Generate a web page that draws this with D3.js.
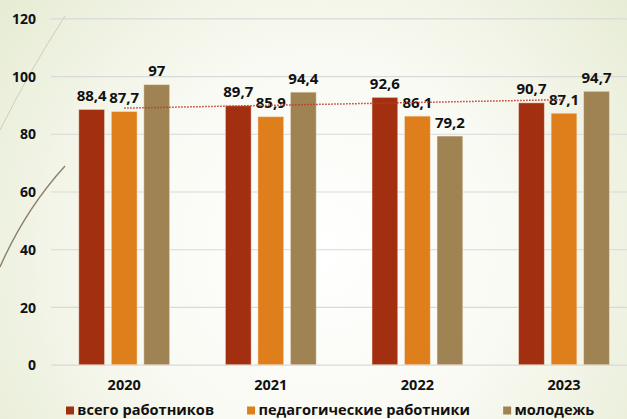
<!DOCTYPE html>
<html><head><meta charset="utf-8">
<script src="https://cdn.jsdelivr.net/npm/d3@7"></script>
<style>html,body{margin:0;padding:0;overflow:hidden;background:#f4f6ea}</style>
</head><body><svg id="c" width="627" height="419"></svg>
<script>
const years = ["2020","2021","2022","2023"];
const seriesNames = ["всего работников","педагогические работники","молодежь"];
const allWorkers = [88.4, 89.7, 92.6, 90.7];
const teachers = [87.7, 85.9, 86.1, 87.1];
const youth = [97, 94.4, 79.2, 94.7];
const yTicks = [0,20,40,60,80,100,120];
const colors = ["#a32f11","#df7f1c","#9f8353"];

const seriesValues = [allWorkers, teachers, youth];
const W = 627, H = 419;
const svg = d3.select("#c");
const font = "'Open Sans', sans-serif";

// background
const defs = svg.append("defs");
const rg = defs.append("radialGradient").attr("id","bg").attr("gradientUnits","userSpaceOnUse")
  .attr("cx",320).attr("cy",250).attr("r",430);
rg.append("stop").attr("offset","0").attr("stop-color","#ffffff");
rg.append("stop").attr("offset","0.45").attr("stop-color","#f9faf3");
rg.append("stop").attr("offset","1").attr("stop-color","#e4ead0");
svg.append("rect").attr("width",W).attr("height",H).attr("fill","url(#bg)");

// decorative lines
svg.append("path").attr("d","M65,16 Q30,70 0,130").attr("fill","none").attr("stroke","#cfcdbd").attr("stroke-width",1);
svg.append("path").attr("d","M65,166 Q25,210 0,267").attr("fill","none").attr("stroke","#8c7f6b").attr("stroke-width",1.4);

const y = d3.scaleLinear().domain([0,120]).range([364.7,18.3]);
const x0 = d3.scaleBand().domain(years).range([50.9,637.3]).paddingInner(0.381).paddingOuter(0.1905);
const x1 = d3.scaleBand().domain(seriesNames).range([0,x0.bandwidth()]).paddingInner(0.21);

// gridlines
const grid = svg.append("g").attr("transform","translate(51,0)")
  .call(d3.axisLeft(y).tickValues(yTicks).tickSize(-(W-51)).tickFormat(""));
grid.select(".domain").remove();
grid.selectAll("line").attr("stroke","#d9d9d9").attr("stroke-width",1.2);

// y labels
const ya = svg.append("g").attr("transform","translate(36,0)")
  .call(d3.axisLeft(y).tickValues(yTicks).tickSize(0).tickPadding(0));
ya.select(".domain").remove();
ya.selectAll("text").attr("font-family",font).attr("font-weight",700).attr("font-size",14).attr("fill","#111").attr("dy","0.36em");

// bars
const groups = svg.append("g").selectAll("g").data(years).join("g")
  .attr("transform",d=>`translate(${x0(d)},0)`);
groups.each(function(yr,i){
  const g = d3.select(this);
  seriesNames.forEach((s,j)=>{
    const v = seriesValues[j][i];
    g.append("rect").attr("x",x1(s)).attr("y",y(v)).attr("width",x1.bandwidth()).attr("height",y(0)-y(v))
      .attr("fill",colors[j]).attr("stroke","#f3e6d8").attr("stroke-opacity",0.55).attr("stroke-width",0.8);
  });
});

// trend line (linear regression of allWorkers)
const n = allWorkers.length;
const mx = d3.mean(d3.range(n)), my = d3.mean(allWorkers);
const slope = d3.sum(d3.range(n), i=>(i-mx)*(allWorkers[i]-my)) / d3.sum(d3.range(n), i=>(i-mx)*(i-mx));
const icpt = my - slope*mx;
const cx = i => x0(years[i]) + x0.bandwidth()/2;
svg.append("line").attr("x1",cx(0)).attr("y1",y(icpt)).attr("x2",cx(n-1)).attr("y2",y(icpt+slope*(n-1)))
  .attr("stroke","#c0392b").attr("stroke-width",1.5).attr("stroke-dasharray","1.5,1.5");

// value labels
groups.each(function(yr,i){
  const g = d3.select(this);
  seriesNames.forEach((s,j)=>{
    const v = seriesValues[j][i];
    g.append("text").attr("x",x1(s)+x1.bandwidth()/2).attr("y",y(v)-8.5)
      .attr("text-anchor","middle").attr("font-family",font).attr("font-weight",700).attr("font-size",15)
      .attr("fill","#111").text(String(v).replace(".",","));
  });
});

// x labels
const xa = svg.append("g").attr("transform",`translate(0,${y(0)})`)
  .call(d3.axisBottom(x0).tickSize(0).tickPadding(0));
xa.select(".domain").remove();
xa.selectAll("text").attr("dy",null).attr("y",25.3).attr("font-family",font).attr("font-weight",700).attr("font-size",14.5).attr("fill","#111");

// legend
const leg = svg.append("g");
const items = leg.selectAll("g").data(seriesNames).join("g");
items.append("rect").attr("width",8).attr("height",8).attr("y",406.5).attr("fill",(d,i)=>colors[i]);
items.append("text").attr("x",11.3).attr("y",414.5).attr("font-family",font).attr("font-weight",700).attr("font-size",14.6)
  .attr("fill","#111").text(d=>d);
let xpos = 66;
items.each(function(){
  const it = d3.select(this);
  it.attr("transform",`translate(${xpos},0)`);
  const w = it.select("text").node().getComputedTextLength();
  xpos += 11.3 + w + 33;
});
</script></body></html>
